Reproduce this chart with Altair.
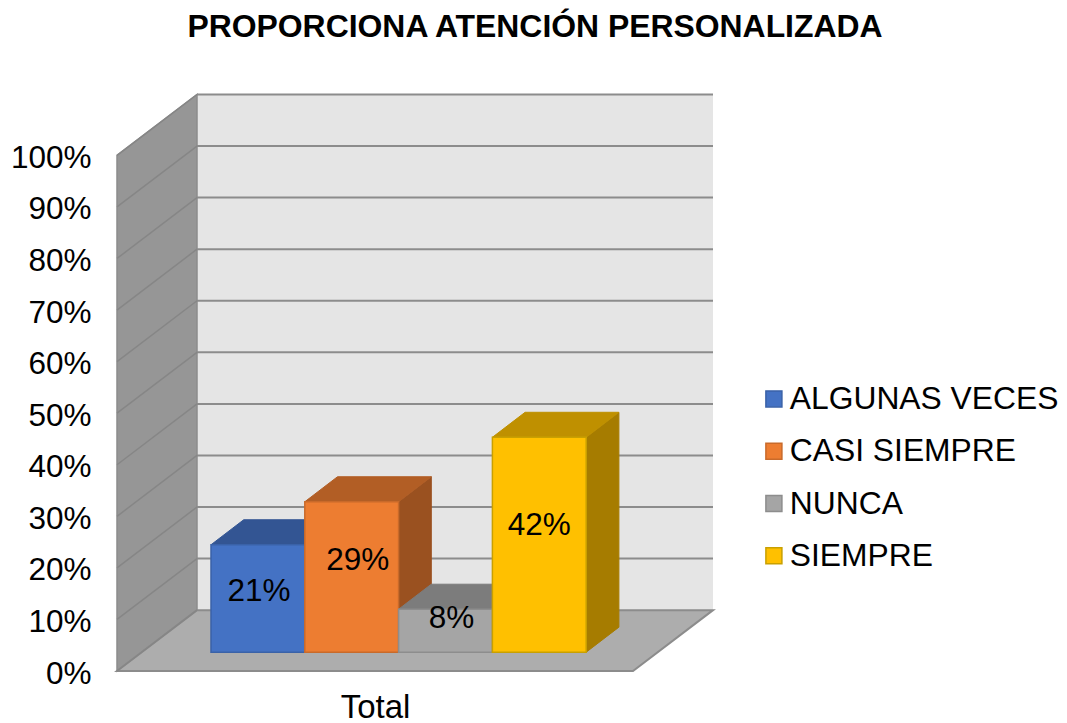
import altair as alt
import pandas as pd

TITLE = "PROPORCIONA ATENCIÓN PERSONALIZADA"
SERIES = ["ALGUNAS VECES", "CASI SIEMPRE", "NUNCA", "SIEMPRE"]
VALUES = [20.83, 29.17, 8.33, 41.67]
TICKS = [0, 10, 20, 30, 40, 50, 60, 70, 80, 90, 100]
CATEGORY = "Total"

FACE = ["#4472c4", "#ed7d31", "#a5a5a5", "#ffc000"]
EDGE = ["#3a62a8", "#c96a2a", "#8d8d8d", "#c9a000"]
TOP = ["#335593", "#b25e25", "#7c7c7c", "#bf9000"]
SIDE = ["#2b4a80", "#9a5120", "#6b6b6b", "#a67c00"]
NUDGE_X = [1, 6, 6, 0]
NUDGE_Y = [-6, -16, -12, -19]

FONT = "Liberation Sans"
GRID = "#8c8c8c"

# projection of the box and of the bars, in axis units (x: px-like units, y: percent)
WALL_DX, WALL_DY = 80, 11.8
FLOOR_W = 516
XMAX, YMAX = FLOOR_W + WALL_DX, 111.7
BAR_X0, BAR_W = 94, 93.8
BAR_BASE = 3.65
BAR_DX, BAR_DY = 32.7, 4.85

x_scale = alt.Scale(domain=[0, XMAX], nice=False, zero=False)
y_scale = alt.Scale(domain=[0, YMAX], nice=False, zero=False)
x_axis = alt.Axis(
    title=CATEGORY, labels=False, ticks=False, domain=False, grid=False,
    titleFont=FONT, titleFontSize=33, titleFontWeight="normal", titleColor="#000000",
    titleX=258, titleY=36, titleBaseline="middle", titleAlign="center")
y_axis = alt.Axis(
    values=TICKS, labelExpr="datum.value + '%'", title=None, ticks=False, domain=False, grid=False,
    labelFont=FONT, labelFontSize=31.5, labelColor="#000000", labelPadding=26, labelOffset=3,
    labelOverlap=False, labelFlush=False)
X = lambda f="x": alt.X(f + ":Q", scale=x_scale, axis=x_axis)
Y = lambda f="y": alt.Y(f + ":Q", scale=y_scale, axis=y_axis)

back_wall = alt.Chart(pd.DataFrame({"x": [WALL_DX], "x2": [XMAX], "y": [WALL_DY], "y2": [100 + WALL_DY]})).mark_rect(
    color="#e5e5e5").encode(x=X(), x2="x2:Q", y=Y(), y2="y2:Q")

left_wall = alt.Chart(pd.DataFrame({"x": [0, WALL_DX], "y": [0, WALL_DY], "y2": [100, 100 + WALL_DY]})).mark_area(
    color="#969696", stroke="#8c8c8c", strokeWidth=1.5, orient="vertical").encode(x=X(), y=Y(), y2="y2:Q")

floor = alt.Chart(pd.DataFrame({"y": [0, WALL_DY], "x": [0, WALL_DX], "x2": [FLOOR_W, XMAX]})).mark_area(
    color="#adadad", stroke=GRID, strokeWidth=2, orient="horizontal").encode(y=Y(), x=X(), x2="x2:Q")

back_grid = alt.Chart(pd.DataFrame({"y": [t + WALL_DY for t in TICKS if t > 0], "x": WALL_DX, "x2": XMAX})).mark_rule(
    color=GRID, strokeWidth=2).encode(x=X(), x2="x2:Q", y=Y())

side_rows = []
for t in TICKS:
    side_rows += [{"t": t, "x": 0, "y": t}, {"t": t, "x": WALL_DX, "y": t + WALL_DY}]
side_grid = alt.Chart(pd.DataFrame(side_rows)).mark_line(color="#868686", strokeWidth=1.5).encode(
    x=X(), y=Y(), detail="t:N")

layers = [back_wall, left_wall, floor, back_grid, side_grid]

labels = []
for i, (name, value) in enumerate(zip(SERIES, VALUES)):
    x0, x1 = BAR_X0 + i * BAR_W, BAR_X0 + (i + 1) * BAR_W
    base, top = BAR_BASE, BAR_BASE + value
    side = pd.DataFrame({"x": [x1, x1 + BAR_DX], "y": [base, base + BAR_DY], "y2": [top, top + BAR_DY]})
    roof = pd.DataFrame({"y": [top, top + BAR_DY], "x": [x0, x0 + BAR_DX], "x2": [x1, x1 + BAR_DX]})
    front = pd.DataFrame({"series": [name], "x": [x0], "x2": [x1], "y": [base], "y2": [top]})
    layers += [
        alt.Chart(side).mark_area(color=SIDE[i], stroke=SIDE[i], strokeWidth=1, orient="vertical").encode(
            x=X(), y=Y(), y2="y2:Q"),
        alt.Chart(roof).mark_area(color=TOP[i], stroke=TOP[i], strokeWidth=1, orient="horizontal").encode(
            y=Y(), x=X(), x2="x2:Q"),
        alt.Chart(front).mark_rect(strokeWidth=1.5).encode(
            x=X(), x2="x2:Q", y=Y(), y2="y2:Q",
            fill=alt.Fill("series:N", scale=alt.Scale(domain=SERIES, range=FACE), legend=alt.Legend(
                title=None, orient="none", legendX=641, legendY=288, padding=0, symbolType="square", symbolSize=256,
                symbolStrokeWidth=1.5, labelFont=FONT, labelFontSize=31.8, labelColor="#000000",
                labelOffset=0, labelLimit=400, rowPadding=19.3, symbolOpacity=1)),
            stroke=alt.Stroke("series:N", scale=alt.Scale(domain=SERIES, range=EDGE), legend=None),
        ),
    ]
    labels.append(
        alt.Chart(pd.DataFrame({"x": [(x0 + x1) / 2], "y": [(base + top) / 2], "t": [f"{round(value)}%"]})).mark_text(
            font=FONT, fontSize=31.5, color="#000000", dx=NUDGE_X[i], dy=NUDGE_Y[i]).encode(
            x=X(), y=Y(), text="t:N")
    )

chart = alt.layer(*layers, *labels).properties(
    width=XMAX,
    height=576,
    padding={"left": 109, "top": 87, "right": 346, "bottom": 52},
    autosize=alt.AutoSizeParams(type="none"),
    title=alt.TitleParams(TITLE, font=FONT, fontSize=31.9, fontWeight="bold", color="#000000",
                          anchor="middle", dx=120, offset=48),
).configure_view(stroke=None)

chart.save("out.html", embed_options={"renderer": "svg", "actions": False})
